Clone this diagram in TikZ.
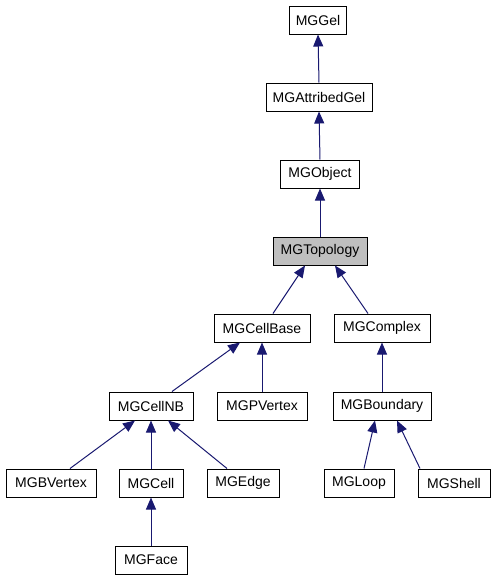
\documentclass[tikz,border=0pt]{standalone}
\usepackage{fontspec}
\setmainfont{Liberation Sans}
\usetikzlibrary{arrows.meta}
\definecolor{edgeblue}{RGB}{25,25,112}
\definecolor{curgray}{RGB}{191,191,191}
\begin{document}
\begin{tikzpicture}[x=1pt,y=-1pt,
  cls/.style={draw=black,line width=1pt,fill=white,minimum height=28pt,inner sep=0pt,font=\fontsize{14}{15}\selectfont},
  inh/.style={draw=edgeblue,line width=1pt,-{Triangle[length=12pt,width=10pt]}}]
\useasboundingbox (0,0) rectangle (496,581);
\node[cls,minimum width=57pt] (gel) at (318,20) {MGGel};
\node[cls,minimum width=106pt] (attr) at (319,97) {MGAttribedGel};
\node[cls,minimum width=79pt] (obj) at (320,174) {MGObject};
\node[cls,minimum width=94pt,fill=curgray] (topo) at (320,251) {MGTopology};
\node[cls,minimum width=96pt] (cellbase) at (262,328) {MGCellBase};
\node[cls,minimum width=96pt] (complex) at (382,328) {MGComplex};
\node[cls,minimum width=84pt] (cellnb) at (151,406) {MGCellNB};
\node[cls,minimum width=90pt] (pvertex) at (262,406) {MGPVertex};
\node[cls,minimum width=98pt] (boundary) at (382,406) {MGBoundary};
\node[cls,minimum width=90pt] (bvertex) at (51,483) {MGBVertex};
\node[cls,minimum width=64pt] (cell) at (151,483) {MGCell};
\node[cls,minimum width=72pt] (edge) at (243,483) {MGEdge};
\node[cls,minimum width=70pt] (loop) at (359,483) {MGLoop};
\node[cls,minimum width=72pt] (shell) at (454,483) {MGShell};
\node[cls,minimum width=72pt] (face) at (151,560) {MGFace};
\draw[inh] (attr.north) -- (gel.south);
\draw[inh] (obj.north) -- (attr.south);
\draw[inh] (topo.north) -- (obj.south);
\draw[inh] ([xshift=11pt]cellbase.north) -- ([xshift=-15pt]topo.south);
\draw[inh] ([xshift=-14pt]complex.north) -- ([xshift=15pt]topo.south);
\draw[inh] ([xshift=21pt]cellnb.north) -- ([xshift=-22pt]cellbase.south);
\draw[inh] (pvertex.north) -- (cellbase.south);
\draw[inh] (boundary.north) -- (complex.south);
\draw[inh] ([xshift=19pt]bvertex.north) -- ([xshift=-16pt]cellnb.south);
\draw[inh] (cell.north) -- (cellnb.south);
\draw[inh] ([xshift=-16pt]edge.north) -- ([xshift=17pt]cellnb.south);
\draw[inh] ([xshift=5pt]loop.north) -- ([xshift=-7pt]boundary.south);
\draw[inh] ([xshift=-34pt]shell.north) -- ([xshift=15pt]boundary.south);
\draw[inh] (face.north) -- (cell.south);
\end{tikzpicture}
\end{document}
